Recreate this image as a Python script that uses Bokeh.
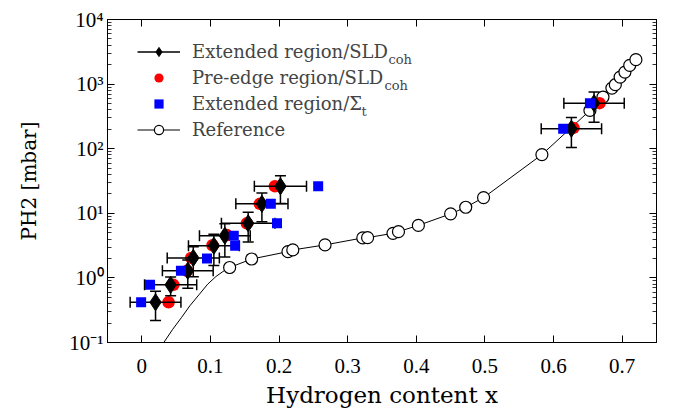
import numpy as np
from bokeh.plotting import figure
from bokeh.models import (LogAxis, LinearAxis, FixedTicker, LogTicker, CustomJSTickFormatter,
                          Legend, LegendItem, Label, Range1d)
from bokeh.embed import file_html
from bokeh.resources import INLINE

# ---------------- data ----------------
# Extended region / SLD_coh (black diamonds with error bars)
ext_x = [0.020, 0.042, 0.067, 0.075, 0.105, 0.121, 0.155, 0.175, 0.202, 0.626, 0.659]
ext_y = [0.42, 0.78, 1.29, 2.04, 3.15, 4.5, 7.0, 14.0, 26.2, 204, 507]
ext_xerr = [0.037, 0.038, 0.037, 0.038, 0.037, 0.037, 0.039, 0.038, 0.038, 0.044, 0.044]
ext_yerr = [0.2, 0.25, 0.6, 1.0, 1.6, 2.4, 3.4, 6.6, 12.0, 100, 250]

# Pre-edge region / SLD_coh (red circles)
pre_x = [0.039, 0.046, 0.066, 0.072, 0.103, 0.124, 0.153, 0.172, 0.194, 0.629, 0.667]
pre_y = [0.42, 0.78, 1.29, 2.04, 3.2, 4.6, 7.0, 14.0, 26.2, 210, 507]

# Extended region / Sigma_t (blue squares)
sig_x = [-0.001, 0.012, 0.057, 0.095, 0.136, 0.134, 0.197, 0.188, 0.257, 0.614, 0.653]
sig_y = [0.42, 0.78, 1.29, 2.0, 3.15, 4.5, 7.0, 14.0, 26.2, 204, 507]

# Reference isotherm (open circles)
ref_x = [0.128, 0.160, 0.213, 0.220, 0.267, 0.322, 0.329, 0.366, 0.374, 0.403, 0.450,
         0.472, 0.498, 0.583, 0.653, 0.672, 0.685, 0.690, 0.697, 0.704, 0.711, 0.720]
ref_y = [1.45, 1.96, 2.55, 2.71, 3.24, 4.16, 4.2, 4.9, 5.2, 6.5, 9.8,
         12.4, 17.5, 81, 391, 629, 867, 979, 1285, 1535, 1950, 2390]

# Reference line, low-x part followed by the circles
curve_low_x = [0.032, 0.045, 0.058, 0.070, 0.084, 0.096, 0.108, 0.118]
curve_low_y = [0.10, 0.16, 0.245, 0.37, 0.56, 0.80, 1.05, 1.25]

x_ticks = [0, 0.1, 0.2, 0.3, 0.4, 0.5, 0.6, 0.7]

# ---------------- figure ----------------
W, H = 672, 411
p = figure(width=W, height=H, output_backend="svg", toolbar_location=None,
           x_range=Range1d(-0.05, 0.75), y_range=Range1d(0.1, 1e4), y_axis_type="log",
           min_border_left=107, min_border_right=16, min_border_top=19, min_border_bottom=69,
           background_fill_color="white", border_fill_color="white")
p.grid.visible = False
p.outline_line_color = "black"
p.outline_line_width = 1

TICK_FONT = "'Liberation Serif'"
TEXT_FONT = "'DejaVu Serif'"

xfmt = CustomJSTickFormatter(code="return tick == 0 ? '0' : tick.toFixed(1);")
yfmt = CustomJSTickFormatter(code="""
const sup = {"-":"\u207b","0":"\u2070","1":"\u00b9","2":"\u00b2","3":"\u00b3","4":"\u2074",
             "5":"\u2075","6":"\u2076","7":"\u2077","8":"\u2078","9":"\u2079"};
const e = Math.round(Math.log10(tick));
return "10" + String(e).split("").map(c => sup[c]).join("");
""")
empty = CustomJSTickFormatter(code="return '';")

def style_axis(ax, labels=True):
    ax.axis_line_color = "black"
    ax.axis_line_width = 1
    ax.major_tick_in = 7
    ax.major_tick_out = 0
    ax.minor_tick_in = 4
    ax.minor_tick_out = 0
    ax.major_tick_line_color = "black"
    ax.minor_tick_line_color = "black"
    ax.major_tick_line_width = 1
    ax.minor_tick_line_width = 0.8
    if labels:
        ax.major_label_text_font = TICK_FONT
        ax.major_label_text_font_size = "21px"
        ax.major_label_text_color = "black"
    else:
        ax.major_label_text_font_size = "1px"
        ax.major_label_standoff = 0

xticker = FixedTicker(ticks=x_ticks, minor_ticks=[])
yticker = LogTicker(num_minor_ticks=10, desired_num_ticks=6)

xa = p.xaxis[0]
xa.ticker = xticker
xa.formatter = xfmt
style_axis(xa)
xa.major_label_standoff = 16
xa.axis_label = "Hydrogen content x"
xa.axis_label_text_font = TEXT_FONT
xa.axis_label_text_font_size = "23px"
xa.axis_label_text_font_style = "normal"
xa.axis_label_text_color = "#000000"
xa.axis_label_standoff = 6

ya = p.yaxis[0]
ya.ticker = yticker
ya.formatter = yfmt
style_axis(ya)
ya.major_label_standoff = 4
ya.axis_label = "PH2 [mbar]"
ya.axis_label_text_font = TEXT_FONT
ya.axis_label_text_font_size = "20px"
ya.axis_label_text_font_style = "normal"
ya.axis_label_text_color = "#000000"
ya.axis_label_standoff = 25

top = LinearAxis(ticker=xticker, formatter=empty)
style_axis(top, labels=False)
p.add_layout(top, "above")
right = LogAxis(ticker=yticker, formatter=empty)
style_axis(right, labels=False)
p.add_layout(right, "right")

# ---------------- glyphs ----------------
ex = np.array(ext_x); ey = np.array(ext_y)
exe = np.array(ext_xerr); eye = np.array(ext_yerr)

r_line = p.line(curve_low_x + ref_x, curve_low_y + ref_y, line_color="black", line_width=1)
r_circ = p.scatter(ref_x, ref_y, marker="circle", size=12, fill_color="white",
                   line_color="black", line_width=1.2)

r_red = p.scatter(pre_x, pre_y, marker="circle", size=12.5, fill_color="#ff0000",
                  line_color=None)

r_xbar = p.segment(x0=ex - exe, x1=ex + exe, y0=ey, y1=ey, line_color="black", line_width=1.5)
r_ybar = p.segment(x0=ex, x1=ex, y0=ey - eye, y1=ey + eye, line_color="black", line_width=1.5)
p.scatter(np.concatenate([ex - exe, ex + exe]), np.concatenate([ey, ey]), marker="dash",
          angle=np.pi / 2, size=11, line_color="black", line_width=1.5)
p.scatter(np.concatenate([ex, ex]), np.concatenate([ey - eye, ey + eye]), marker="dash",
          size=11, line_color="black", line_width=1.5)
r_dia = p.scatter(ext_x, ext_y, marker="diamond", size=17, fill_color="black",
                  line_color="black")

r_blue = p.scatter(sig_x, sig_y, marker="square", size=10, fill_color="#0000ff",
                   line_color=None)

# ---------------- legend ----------------
items = [
    LegendItem(label="Extended region/SLD", renderers=[r_xbar, r_dia]),
    LegendItem(label="Pre-edge region/SLD", renderers=[r_red]),
    LegendItem(label="Extended region/\u03a3", renderers=[r_blue]),
    LegendItem(label="Reference", renderers=[r_line, r_circ]),
]
legend = Legend(items=items, location=(30, 201), label_text_font=TEXT_FONT,
                label_text_font_size="18px", glyph_width=43, glyph_height=23,
                label_height=23, spacing=3, padding=0, margin=0, label_standoff=12,
                border_line_alpha=0, background_fill_alpha=0)
p.add_layout(legend)

# subscripts of the legend labels (screen units relative to the frame)
sub_specs = [("coh", 281, 283), ("coh", 277, 257), ("t", 254, 231)]
for txt, fx, fy in sub_specs:
    p.add_layout(Label(x=fx, y=fy, x_units="screen", y_units="screen",
                       text=txt, text_font=TEXT_FONT, text_font_size="13px",
                       text_align="left", text_baseline="alphabetic"))

open("out.html", "w").write(file_html(p, INLINE))
